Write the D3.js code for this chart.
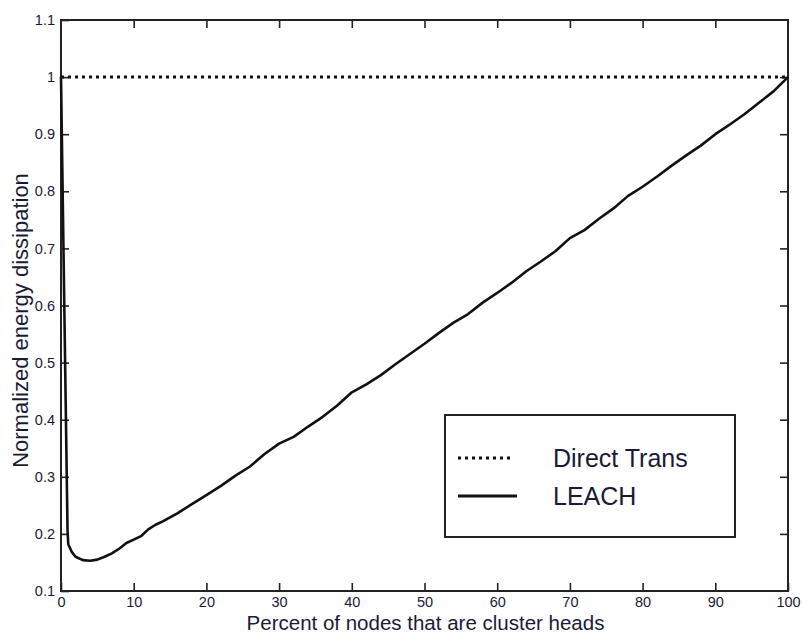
<!DOCTYPE html>
<html>
<head>
<meta charset="utf-8">
<script src="https://cdn.jsdelivr.net/npm/d3@7"></script>
<style>
  html, body { margin: 0; padding: 0; background: #fff; }
  svg { display: block; }
  text { font-family: "Liberation Sans", Arial, Helvetica, sans-serif; }
</style>
</head>
<body>
<svg id="chart" width="803" height="634"></svg>
<script>
// Percent of nodes acting as cluster heads
const leachX = [0, 0.9, 1, 1.5, 2, 3, 4, 5, 6, 7, 8, 9, 10, 11, 12, 13, 14, 16, 18,
  20, 22, 24, 26, 28, 30, 32, 34, 36, 38, 40, 42, 44, 46, 48, 50, 52, 54, 56, 58,
  60, 62, 64, 66, 68, 70, 72, 74, 76, 78, 80, 82, 84, 86, 88, 90, 92, 94, 96, 98, 100];
// Normalized energy dissipation with LEACH
const leachY = [1.0, 0.205, 0.182, 0.168, 0.160, 0.154, 0.153, 0.155, 0.160, 0.166, 0.174, 0.184, 0.190, 0.196, 0.208, 0.216, 0.222, 0.236, 0.252,
  0.268, 0.284, 0.302, 0.318, 0.340, 0.358, 0.370, 0.388, 0.405, 0.425, 0.448, 0.462, 0.478, 0.497, 0.515, 0.533, 0.552, 0.570, 0.585, 0.605,
  0.622, 0.640, 0.660, 0.677, 0.695, 0.718, 0.732, 0.752, 0.770, 0.792, 0.808, 0.826, 0.845, 0.863, 0.880, 0.900, 0.917, 0.935, 0.955, 0.975, 1.0];
// Direct transmission baseline
const directX = [0, 100];
const directY = [1.0, 1.0];

const xTicks = [0, 10, 20, 30, 40, 50, 60, 70, 80, 90, 100];
const yTicks = [0.1, 0.2, 0.3, 0.4, 0.5, 0.6, 0.7, 0.8, 0.9, 1.0, 1.1];
const yTickLabels = ["0.1", "0.2", "0.3", "0.4", "0.5", "0.6", "0.7", "0.8", "0.9", "1", "1.1"];

const seriesNames = ["Direct Trans", "LEACH"];
const xTitle = "Percent of nodes that are cluster heads";
const yTitle = "Normalized energy dissipation";

const margin = { left: 61, top: 20, right: 15, bottom: 43 };
const W = 803, H = 634;
const iw = W - margin.left - margin.right;
const ih = H - margin.top - margin.bottom;

const svg = d3.select("#chart");
const g = svg.append("g").attr("transform", `translate(${margin.left},${margin.top})`);

const x = d3.scaleLinear().domain([0, 100]).range([0, iw]);
const y = d3.scaleLinear().domain([0.1, 1.1]).range([ih, 0]);

const axisColor = "#222";
const textColor = "#1a1a36";
const tickLen = 8;

function styleAxis(sel) {
  sel.select(".domain").remove();
  sel.selectAll(".tick line").attr("stroke", axisColor).attr("stroke-width", 1.6);
  sel.selectAll(".tick text")
    .attr("fill", textColor)
    .style("font-size", "14.5px");
}

// Bottom axis with labels
g.append("g")
  .attr("transform", `translate(0,${ih})`)
  .call(d3.axisBottom(x).tickValues(xTicks).tickSize(-tickLen).tickPadding(6).tickFormat(d3.format("d")))
  .call(styleAxis);

// Left axis with labels
g.append("g")
  .call(d3.axisLeft(y).tickValues(yTicks).tickSize(-tickLen).tickPadding(6)
    .tickFormat((d, i) => yTickLabels[i]))
  .call(styleAxis);

// Top and right axes: inward ticks only
g.append("g")
  .call(d3.axisTop(x).tickValues(xTicks.slice(1, -1)).tickSize(-tickLen).tickFormat(""))
  .call(styleAxis);
g.append("g")
  .attr("transform", `translate(${iw},0)`)
  .call(d3.axisRight(y).tickValues(yTicks.slice(1, -1)).tickSize(-tickLen).tickFormat(""))
  .call(styleAxis);

// Plot frame
g.append("rect")
  .attr("x", 0).attr("y", 0).attr("width", iw).attr("height", ih)
  .attr("fill", "none").attr("stroke", axisColor).attr("stroke-width", 2);

const line = d3.line().x(d => x(d[0])).y(d => y(d[1]));

// Direct transmission (dotted)
g.append("path")
  .datum(d3.zip(directX, directY))
  .attr("d", line)
  .attr("fill", "none")
  .attr("stroke", "#111")
  .attr("stroke-width", 3)
  .attr("stroke-dasharray", "3,4");

// LEACH (solid)
g.append("path")
  .datum(d3.zip(leachX, leachY))
  .attr("d", line)
  .attr("fill", "none")
  .attr("stroke", "#111")
  .attr("stroke-width", 2.6)
  .attr("stroke-linejoin", "round");

// Axis titles
svg.append("text")
  .attr("x", margin.left + iw / 2 + 1)
  .attr("y", 629.6)
  .attr("text-anchor", "middle")
  .attr("fill", textColor)
  .style("font-size", "20.5px")
  .text(xTitle);

svg.append("text")
  .attr("transform", `translate(28,${margin.top + ih / 2 + 15}) rotate(-90)`)
  .attr("text-anchor", "middle")
  .attr("fill", textColor)
  .style("font-size", "22px")
  .text(yTitle);

// Legend
const legend = svg.append("g").attr("transform", "translate(445,415)");
legend.append("rect")
  .attr("width", 290).attr("height", 122)
  .attr("fill", "#fff").attr("stroke", axisColor).attr("stroke-width", 2);

const legendRows = [
  { name: seriesNames[0], dash: "3,4", width: 3, y: 43 },
  { name: seriesNames[1], dash: null, width: 3.2, y: 81 }
];
legendRows.forEach(r => {
  legend.append("line")
    .attr("x1", 13).attr("x2", r.dash ? 69 : 72)
    .attr("y1", r.y).attr("y2", r.y)
    .attr("stroke", "#111").attr("stroke-width", r.width)
    .attr("stroke-dasharray", r.dash);
  legend.append("text")
    .attr("x", 108).attr("y", r.y + 9)
    .attr("fill", textColor)
    .style("font-size", "25px")
    .text(r.name);
});
</script>
</body>
</html>
